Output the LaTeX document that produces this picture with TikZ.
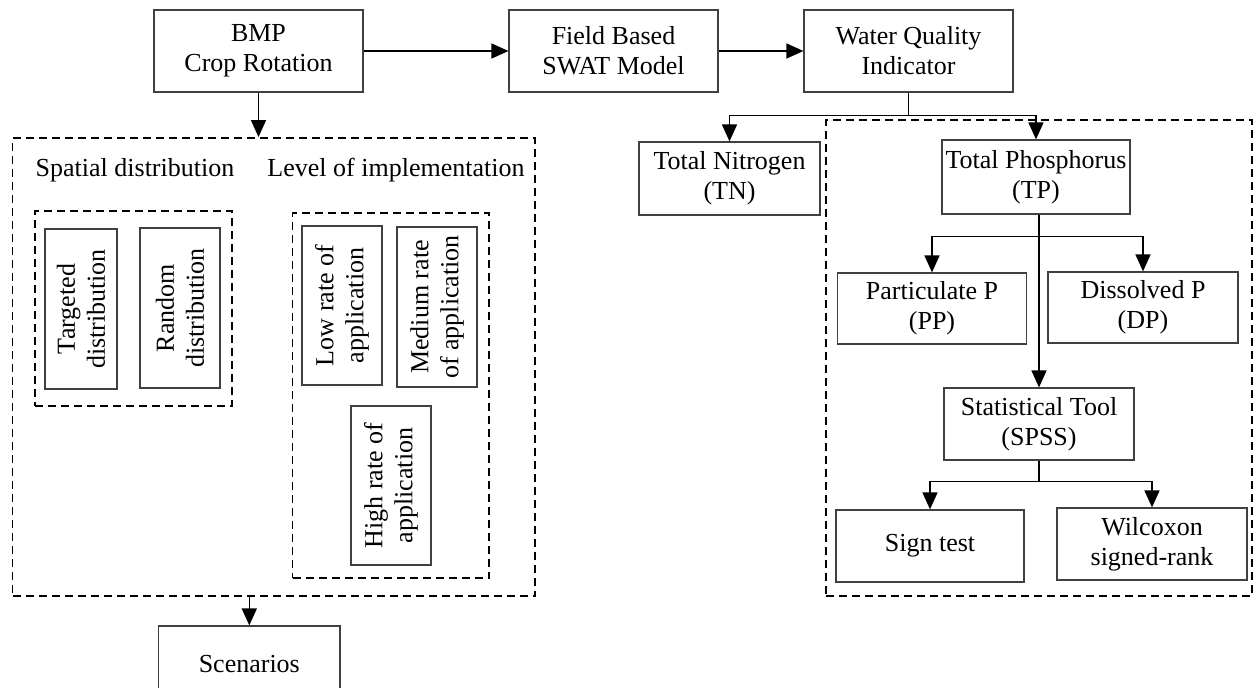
\documentclass[tikz,border=0pt]{standalone}
\usepackage{fontspec}
\setmainfont{Liberation Serif}
\usetikzlibrary{arrows.meta}
\tikzset{
  box/.style={draw=black!75, line width=1.2pt, align=center, inner sep=2pt,
    font=\fontsize{26}{30}\selectfont},
  vbox/.style={box, rotate=90},
  lbl/.style={font=\fontsize{26}{30}\selectfont, inner sep=0pt},
  dbox/.style={draw=black, line width=1.9pt, dash pattern=on 8pt off 5pt},
  conn/.style={draw=black, line width=1.6pt},
  arr/.style={conn, -{Triangle[length=17pt,width=15pt]}},
}
\begin{document}
\begin{tikzpicture}[x=1pt,y=-1pt]
\clip (0,0) rectangle (1254,688);
% top row
\node[box, minimum width=209pt, minimum height=82pt] (bmp) at (258.5,51) {BMP\\Crop Rotation};
\node[box, minimum width=209pt, minimum height=82pt] (field) at (613.5,51) {Field Based\\SWAT Model};
\node[box, minimum width=209pt, minimum height=82pt] (water) at (908.5,51) {Water Quality\\Indicator};
% left group
\node[dbox, minimum width=522.5pt, minimum height=458pt] (left) at (273.75,367) {};
\node[lbl] (spatial) at (135,170) {Spatial distribution};
\node[lbl] (level) at (396,170) {Level of implementation};
\node[dbox, minimum width=197pt, minimum height=195pt] (inl) at (133.5,308.5) {};
\node[vbox, minimum width=160pt, minimum height=72pt] (targ) at (81,309) {Targeted\\distribution};
\node[vbox, minimum width=160pt, minimum height=80pt] (rand) at (180,308) {Random\\distribution};
\node[dbox, minimum width=196.5pt, minimum height=365pt] (inr) at (390.75,395.5) {};
\node[vbox, minimum width=159pt, minimum height=80pt] (low) at (342,305.5) {Low rate of\\application};
\node[vbox, minimum width=160pt, minimum height=80pt] (med) at (437,307) {Medium rate\\of application};
\node[vbox, minimum width=159pt, minimum height=80pt] (high) at (391,485.5) {High rate of\\application};
\node[box, minimum width=181.5pt, minimum height=76pt] (scen) at (249.3,664) {Scenarios};
% right group
\node[box, minimum width=181pt, minimum height=73pt] (tn) at (729.5,178.5) {Total Nitrogen\\(TN)};
\node[dbox, minimum width=426pt, minimum height=476pt] (right) at (1039,358) {};
\node[box, minimum width=188pt, minimum height=74pt] (tp) at (1036,177) {Total Phosphorus\\(TP)};
\node[box, minimum width=188.5pt, minimum height=71pt] (pp) at (932,308.5) {Particulate P\\(PP)};
\node[box, minimum width=190pt, minimum height=71pt] (dp) at (1143,307.5) {Dissolved P\\(DP)};
\node[box, minimum width=190pt, minimum height=72pt] (stat) at (1039,424) {Statistical Tool\\(SPSS)};
\node[box, minimum width=188pt, minimum height=72pt] (sign) at (930,546) {Sign test};
\node[box, minimum width=190pt, minimum height=72pt] (wil) at (1152,544) {Wilcoxon\\signed-rank};
% connectors
\draw[arr] (bmp.east) -- (field.west);
\draw[arr] (field.east) -- (water.west);
\coordinate (b1) at (bmp.south);
\coordinate (lt) at (bmp.south |- left.north);
\draw[arr] (b1) -- (lt);
\coordinate (lb) at (scen.north |- left.south);
\draw[arr] (lb) -- (scen.north);
\coordinate (wq) at ([yshift=-23pt]water.south);
\draw[conn] (water.south) -- (wq);
\draw[arr] (wq) -| (tn.north);
\draw[arr] (wq) -| (tp.north);
\coordinate (tpb) at ([xshift=3pt]tp.south);
\coordinate (tpj) at ([yshift=-22pt]tpb);
\draw[arr] (tpb) -- (tpb |- stat.north);
\draw[arr] (tpj) -| (pp.north);
\draw[arr] (tpj) -| (dp.north);
\coordinate (sj) at ([yshift=-21pt]stat.south);
\draw[conn] (stat.south) -- (sj);
\draw[arr] (sj) -| (sign.north);
\draw[arr] (sj) -| (wil.north);
\end{tikzpicture}
\end{document}
